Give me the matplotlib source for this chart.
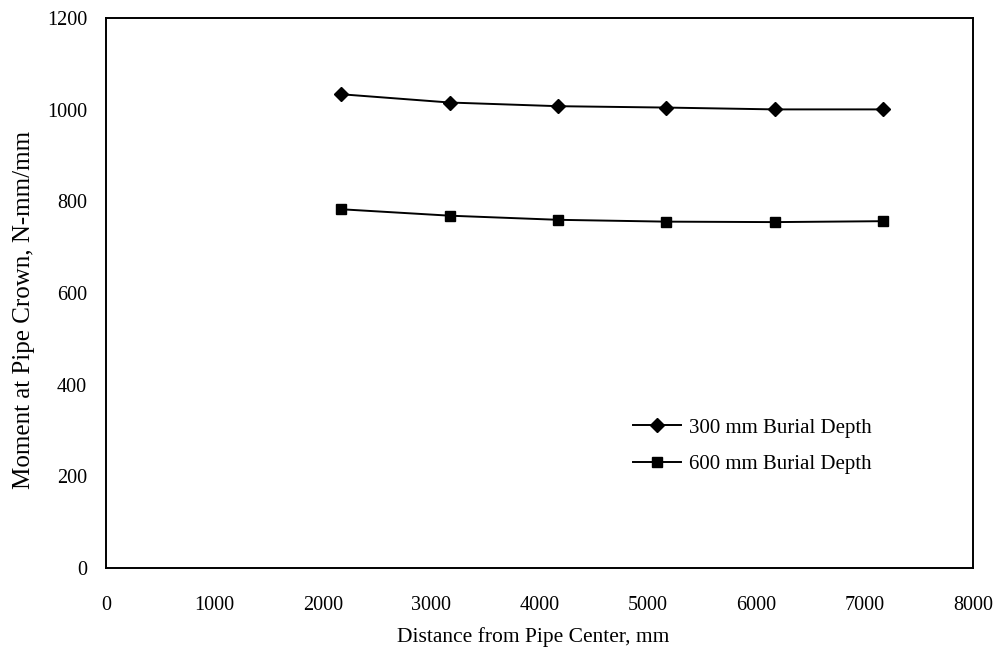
import matplotlib
matplotlib.use("Agg")
import matplotlib.pyplot as plt

distance = [2170, 3170, 4170, 5170, 6170, 7170]
moment_300 = [1034, 1016, 1008, 1005, 1001, 1001]
moment_600 = [783, 769, 760, 756, 755, 757]
series_labels = ["300 mm Burial Depth", "600 mm Burial Depth"]
x_ticks = [0, 1000, 2000, 3000, 4000, 5000, 6000, 7000, 8000]
y_ticks = [0, 200, 400, 600, 800, 1000, 1200]

plt.rcParams['font.family'] = ['Liberation Serif', 'DejaVu Serif']

fig = plt.figure(figsize=(10.04, 6.51), dpi=100)
ax = fig.add_axes([0.106, 0.1275, 0.863, 0.8445])

ax.plot(distance, moment_300, color='black', lw=1.4, marker='D', ms=7, label=series_labels[0])
ax.plot(distance, moment_600, color='black', lw=1.4, marker='s', ms=7, label=series_labels[1])

ax.set_xlim(0, 8000)
ax.set_ylim(0, 1200)
ax.set_xticks(x_ticks)
ax.set_yticks(y_ticks)
ax.tick_params(axis='both', length=0, labelsize=14.5)
ax.tick_params(axis='x', pad=20)
ax.tick_params(axis='y', pad=14)
for s in ax.spines.values():
    s.set_linewidth(1.4)
    s.set_color('black')

ax.set_xlabel("Distance from Pipe Center, mm", fontsize=15.5)
ax.xaxis.set_label_coords(0.493, -0.108)
ax.set_ylabel("Moment at Pipe Crown, N-mm/mm", fontsize=18)
ax.yaxis.set_label_coords(-0.083, 0.47)

ax.legend(loc='center left', bbox_to_anchor=(0.608, 0.222), frameon=False,
          fontsize=15, borderpad=0, borderaxespad=0, handlelength=2.3,
          handletextpad=0.4, labelspacing=0.8)

fig.savefig("out.png", dpi=100)
